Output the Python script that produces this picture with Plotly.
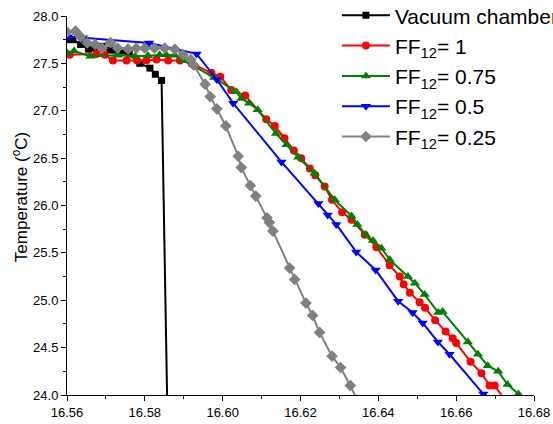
import plotly.graph_objects as go

# ---- data ----
vac_x = [16.5600, 16.5615, 16.5635, 16.5655, 16.5670, 16.5690, 16.5710, 16.5723, 16.5743,
         16.5760, 16.5787, 16.5813, 16.5827, 16.5843, 16.5858]
vac_y = [27.75, 27.75, 27.70, 27.65, 27.66, 27.68, 27.64, 27.64, 27.63,
         27.60, 27.50, 27.45, 27.385, 27.32, 23.80]

ff1_x = [16.5600, 16.5607, 16.5676, 16.5697, 16.5718, 16.5753, 16.5780, 16.5804, 16.5830,
         16.5860, 16.5890, 16.5920, 16.5971, 16.5994, 16.6022, 16.6058, 16.6112, 16.6134,
         16.6159, 16.6183, 16.6202, 16.6224, 16.6238, 16.6262, 16.6281, 16.6307, 16.6331,
         16.6365, 16.6395, 16.6429, 16.6455, 16.6465, 16.6481, 16.6506, 16.6520, 16.6546,
         16.6573, 16.6591, 16.6600, 16.6637, 16.6665, 16.6686, 16.6699, 16.6725]
ff1_y = [27.60, 27.59, 27.60, 27.59, 27.53, 27.53, 27.53, 27.53, 27.54,
         27.53, 27.53, 27.50, 27.40, 27.36, 27.22, 27.16, 26.91, 26.84,
         26.71, 26.58, 26.50, 26.39, 26.32, 26.20, 26.06, 25.93, 25.85,
         25.69, 25.56, 25.37, 25.25, 25.17, 25.08, 24.98, 24.92, 24.79,
         24.67, 24.60, 24.55, 24.35, 24.23, 24.10, 24.10, 23.95]

ff075_x = [16.5600, 16.5618, 16.5660, 16.5730, 16.5775, 16.5808, 16.5838, 16.5855, 16.5877,
           16.5900, 16.5978, 16.6035, 16.6048, 16.6068, 16.6090, 16.6137, 16.6164, 16.6194,
           16.6236, 16.6288, 16.6331, 16.6346, 16.6368, 16.6386, 16.6408, 16.6429, 16.6476,
           16.6494, 16.6519, 16.6554, 16.6565, 16.6630, 16.6656, 16.6681, 16.6708, 16.6732,
           16.6760]
ff075_y = [27.61, 27.63, 27.575, 27.585, 27.575, 27.58, 27.59, 27.59, 27.585,
           27.53, 27.35, 27.20, 27.13, 27.08, 27.01, 26.76, 26.64, 26.51,
           26.34, 26.06, 25.89, 25.80, 25.69, 25.63, 25.55, 25.43, 25.25,
           25.18, 25.06, 24.87, 24.88, 24.56, 24.43, 24.31, 24.25, 24.11,
           24.01]

ff05_x = [16.5603, 16.5641, 16.5811, 16.5933, 16.5985, 16.6027, 16.6151, 16.6246, 16.6270,
          16.6292, 16.6343, 16.6393, 16.6451, 16.6488, 16.6514, 16.6553, 16.6583, 16.6670]
ff05_y = [27.78, 27.77, 27.715, 27.60, 27.33, 27.08, 26.46, 26.02, 25.90,
          25.80, 25.51, 25.32, 24.99, 24.87, 24.76, 24.56, 24.43, 24.01]

ff025_x = [16.5600, 16.5622, 16.5635, 16.5652, 16.5672, 16.5690, 16.5712, 16.5730, 16.5757,
           16.5778, 16.5800, 16.5825, 16.5851, 16.5877, 16.5898, 16.5918, 16.5926, 16.5955,
           16.5968, 16.5985, 16.6008, 16.6040, 16.6048, 16.6071, 16.6085, 16.6114, 16.6120,
           16.6129, 16.6172, 16.6185, 16.6214, 16.6231, 16.6249, 16.6281, 16.6303, 16.6328,
           16.6345]
ff025_y = [27.83, 27.84, 27.78, 27.715, 27.70, 27.66, 27.72, 27.66, 27.65,
           27.66, 27.66, 27.66, 27.66, 27.65, 27.59, 27.54, 27.48, 27.28,
           27.15, 27.02, 26.84, 26.52, 26.40, 26.21, 26.10, 25.87, 25.82,
           25.73, 25.34, 25.22, 24.97, 24.84, 24.66, 24.41, 24.29, 24.10,
           23.95]

names = ["Vacuum chamber", "FF<sub>12</sub>= 1", "FF<sub>12</sub>= 0.75",
         "FF<sub>12</sub>= 0.5", "FF<sub>12</sub>= 0.25"]
x_ticks = [16.56, 16.58, 16.60, 16.62, 16.64, 16.66, 16.68]
y_ticks = [24.0, 24.5, 25.0, 25.5, 26.0, 26.5, 27.0, 27.5, 28.0]
y_title = "Temperature (<sup>o</sup>C)"

FONT = "Arial, Liberation Sans, sans-serif"

series = [
    (vac_x, vac_y, names[0], "black", "square", 7),
    (ff1_x, ff1_y, names[1], "#FF0000", "circle", 8),
    (ff075_x, ff075_y, names[2], "#008000", "triangle-up", 9),
    (ff05_x, ff05_y, names[3], "#0000FF", "triangle-down", 9),
    (ff025_x, ff025_y, names[4], "#808080", "diamond", 9),
]

fig = go.Figure()
for xs, ys, nm, col, sym, sz in series:
    fig.add_trace(go.Scatter(
        x=xs, y=ys, name=nm, mode="lines+markers",
        line=dict(color=col, width=2),
        marker=dict(color=col, symbol=sym, size=sz, line=dict(width=0)),
    ))

fig.update_layout(
    width=553, height=424,
    margin=dict(l=67, r=19, t=16, b=29, autoexpand=False),
    paper_bgcolor="white", plot_bgcolor="white",
    font=dict(family=FONT, color="black"),
    showlegend=True,
    legend=dict(x=0.578, xanchor="left", y=1.055, yanchor="top",
                bgcolor="rgba(0,0,0,0)", font=dict(size=21, family=FONT),
                itemwidth=48, tracegroupgap=0),
    annotations=[dict(text=y_title, textangle=-90, xref="paper", yref="paper",
                      x=-0.1006, y=0.522, xanchor="center", yanchor="middle",
                      showarrow=False, font=dict(size=17, family=FONT))],
)
fig.update_xaxes(
    range=[16.56, 16.68], tickvals=x_ticks, ticktext=[f"{v:.2f}" for v in x_ticks],
    showline=True, linecolor="black", linewidth=1, mirror=False,
    ticks="outside", ticklen=5, tickcolor="black", tickwidth=1,
    minor=dict(ticks="outside", ticklen=3, dtick=0.01, tickcolor="black", showgrid=False),
    showgrid=False, zeroline=False,
    tickfont=dict(size=13, family=FONT),
)
fig.update_yaxes(
    range=[24, 28], tickvals=y_ticks, ticktext=[f"{v:.1f}" for v in y_ticks],
    showline=True, linecolor="black", linewidth=1, mirror=False,
    ticks="outside", ticklen=5, tickcolor="black", tickwidth=1,
    minor=dict(ticks="outside", ticklen=3, dtick=0.25, tickcolor="black", showgrid=False),
    showgrid=False, zeroline=False,
    tickfont=dict(size=13, family=FONT),
)

# remove the page's default 8px body margin so the 553x424 figure fills the window
fig.write_html("out.html", config={"displayModeBar": False, "staticPlot": True},
               post_script="document.body.style.margin='0';")
